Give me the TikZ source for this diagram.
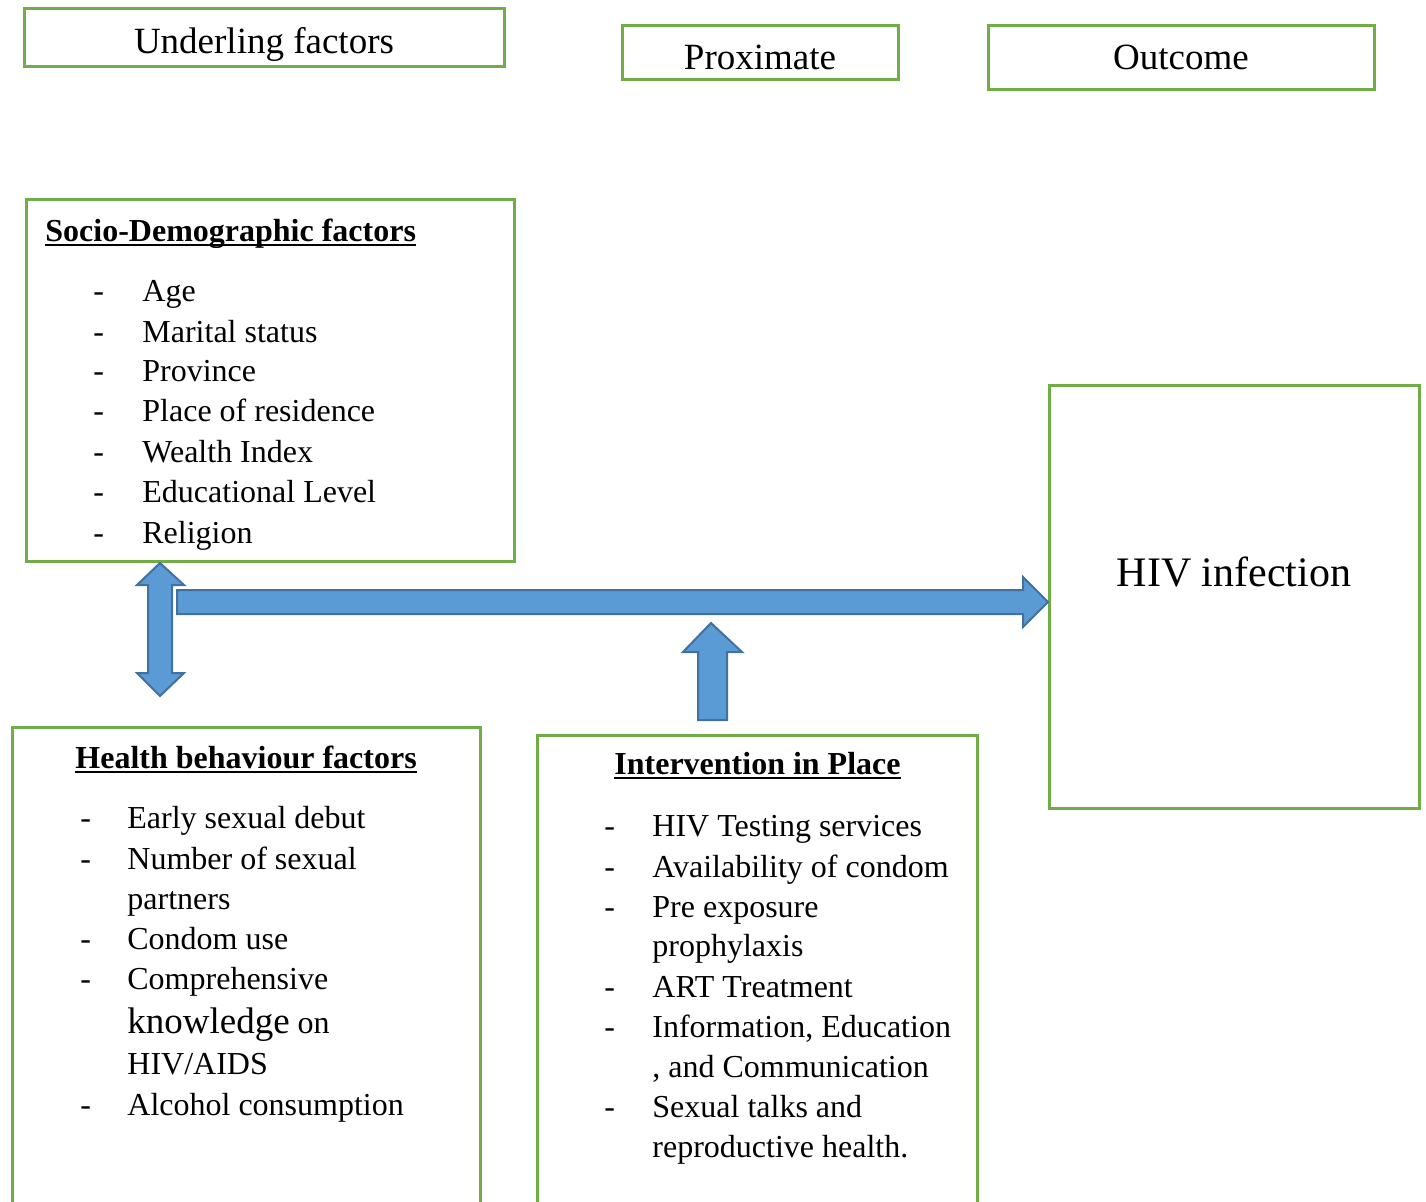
\documentclass[tikz,border=0pt]{standalone}
\usepackage{fontspec}
\setmainfont{Liberation Serif}
\definecolor{gr}{HTML}{70AD47}
\definecolor{bfill}{HTML}{5B9BD5}
\definecolor{bline}{HTML}{41719C}
\newlength\ulw
\newcommand\myul[1]{\settowidth\ulw{#1}\rlap{\rule[-2.6pt]{\ulw}{1.1pt}}#1}
\tikzset{
 gbox/.style={draw=gr, line width=1.5pt, inner sep=0pt},
 txt/.style={anchor=base west, inner sep=0pt, font=\fontsize{16}{19}\selectfont},
 headtxt/.style={anchor=base west, inner sep=0pt, font=\fontsize{16}{19}\selectfont\bfseries},
 titletxt/.style={anchor=base, inner sep=0pt, font=\fontsize{18.5}{22}\selectfont},
 barrow/.style={fill=bfill, draw=bline, line width=1pt, line join=miter},
}
\newcommand\mkbox[5]{\node[gbox, minimum width={(#4-#2)*0.5pt}, minimum height={(#5-#3)*0.5pt}] (#1) at ({(#2+#4)/2},{(#3+#5)/2}) {};}
\begin{document}
\begin{tikzpicture}[x=0.5pt,y=-0.5pt]
\clip (0,0) rectangle (1426,1201);
\fill[white] (0,0) rectangle (1426,1201);
% title boxes
\mkbox{under}{24}{8}{504}{66}
\mkbox{prox}{622}{25}{898}{79}
\mkbox{outc}{988}{25}{1374}{89}
\node[titletxt] (undert) at (264,53) {Underling factors};
\node[titletxt] (proxt) at (760,69) {Proximate};
\node[titletxt] (outct) at (1181,69) {Outcome};
% main boxes
\mkbox{socio}{26}{199}{514}{561}
\mkbox{hiv}{1049}{385}{1419}{808}
\mkbox{health}{12}{727}{480}{1240}
\mkbox{interv}{537}{735}{977}{1240}
\node[anchor=base, inner sep=0pt, font=\fontsize{21}{25}\selectfont] (hivt) at (1234,586) {HIV infection};
% socio text
\node[headtxt] (sh) at (45,241) {\myul{Socio-Demographic factors}};
\node[txt] (sd1) at (93,301) {-}; \node[txt] (s1) at (142,301) {Age};
\node[txt] (sd2) at (93,342) {-}; \node[txt] (s2) at (142,342) {Marital status};
\node[txt] (sd3) at (93,381) {-}; \node[txt] (s3) at (142,381) {Province};
\node[txt] (sd4) at (93,421) {-}; \node[txt] (s4) at (142,421) {Place of residence};
\node[txt] (sd5) at (93,462) {-}; \node[txt] (s5) at (142,462) {Wealth Index};
\node[txt] (sd6) at (93,502) {-}; \node[txt] (s6) at (142,502) {Educational Level};
\node[txt] (sd7) at (93,543) {-}; \node[txt] (s7) at (142,543) {Religion};
% health text
\node[headtxt] (hh) at (75,768) {\myul{Health behaviour factors}};
\node[txt] (hd1) at (80,828) {-}; \node[txt] (h1) at (127,828) {Early sexual debut};
\node[txt] (hd2) at (80,869) {-}; \node[txt] (h2) at (127,869) {Number of sexual};
\node[txt] (h2b) at (127,909) {partners};
\node[txt] (hd3) at (80,949) {-}; \node[txt] (h3) at (127,949) {Condom use};
\node[txt] (hd4) at (80,989) {-}; \node[txt] (h4) at (127,989) {Comprehensive};
\node[txt] (h4b) at (127,1033) {{\fontsize{18.5}{22}\selectfont knowledge} on};
\node[txt] (h4c) at (127,1074) {HIV/AIDS};
\node[txt] (hd5) at (80,1115) {-}; \node[txt] (h5) at (127,1115) {Alcohol consumption};
% intervention text
\node[headtxt] (ih) at (614,774) {\myul{Intervention in Place}};
\node[txt] (id1) at (604,836) {-}; \node[txt] (i1) at (652,836) {HIV Testing services};
\node[txt] (id2) at (604,877) {-}; \node[txt] (i2) at (652,877) {Availability of condom};
\node[txt] (id3) at (604,917) {-}; \node[txt] (i3) at (652,917) {Pre exposure};
\node[txt] (i3b) at (652,956) {prophylaxis};
\node[txt] (id4) at (604,997) {-}; \node[txt] (i4) at (652,997) {ART Treatment};
\node[txt] (id5) at (604,1037) {-}; \node[txt] (i5) at (652,1037) {Information, Education};
\node[txt] (i5b) at (652,1077) {, and Communication};
\node[txt] (id6) at (604,1117) {-}; \node[txt] (i6) at (652,1117) {Sexual talks and};
\node[txt] (i6b) at (652,1157) {reproductive health.};
% block arrows
\draw[barrow] (160,563) -- (184,585) -- (172,585) -- (172,673) -- (184,673) -- (160,696)
  -- (137,673) -- (148,673) -- (148,585) -- (137,585) -- cycle;
\draw[barrow] (177,590) -- (1023,590) -- (1023,577) -- (1048,602) -- (1023,627)
  -- (1023,614) -- (177,614) -- cycle;
\draw[barrow] (711,623) -- (742,652) -- (727,652) -- (727,720) -- (698,720)
  -- (698,652) -- (683,652) -- cycle;
\end{tikzpicture}
\end{document}
